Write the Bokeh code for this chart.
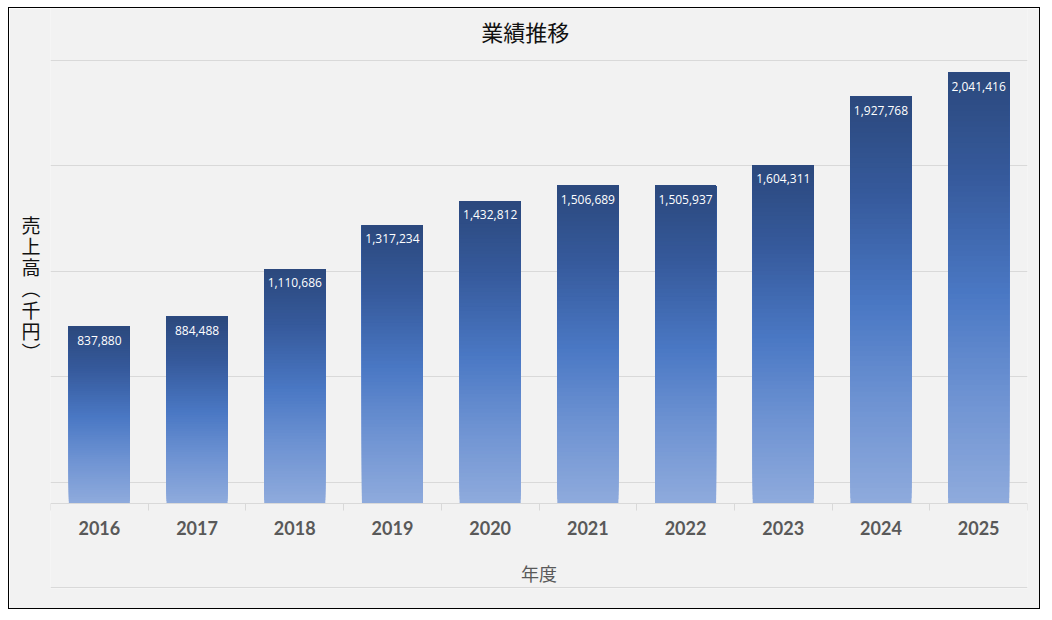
from bokeh.plotting import figure
from bokeh.models import (Range1d, FixedTicker, LinearAxis, ColumnDataSource)
from bokeh.core.properties import value
from bokeh.embed import file_html
from bokeh.resources import INLINE

# ---- data ----
years = ["2016", "2017", "2018", "2019", "2020", "2021", "2022", "2023", "2024", "2025"]
sales = [837880, 884488, 1110686, 1317234, 1432812, 1506689, 1505937, 1604311, 1927768, 2041416]
grid_values = [-400000, 100000, 600000, 1100000, 1600000, 2100000]
title_text = "業績推移"
x_title = "年度"
y_title = "売\n上\n高\n︵\n千\n円\n︶\n"

# category slots: year i sits in slot centred at i + 0.5
centers = [i + 0.5 for i in range(len(years))]
edges = list(range(len(years) + 1))

# gradient stops (0 = bottom of bar, 1 = top)
grad_stops = [(0.0, (0x8e, 0xaa, 0xdc)), (0.25, (0x6d, 0x92, 0xd2)),
              (0.48, (0x4a, 0x78, 0xc4)), (0.75, (0x36, 0x5a, 0x9c)),
              (1.0, (0x2b, 0x48, 0x7c))]


def grad(t):
    for (t0, c0), (t1, c1) in zip(grad_stops[:-1], grad_stops[1:]):
        if t0 <= t <= t1:
            f = (t - t0) / (t1 - t0)
            c = [round(a + (b - a) * f) for a, b in zip(c0, c1)]
            return "#%02x%02x%02x" % tuple(c)
    return "#%02x%02x%02x" % grad_stops[-1][1]


N = 80
seg = dict(x=[], bottom=[], top=[], color=[])
for cx, v in zip(centers, sales):
    for i in range(N):
        seg["x"].append(cx)
        seg["bottom"].append(v * i / N)
        seg["top"].append(v)
        seg["color"].append(grad(i / N))

# plot area reaches the top edge so the title can sit inside it
p = figure(width=1032, height=602,
           x_range=Range1d(0, len(years)),
           y_range=Range1d(-404000, 2346000),
           output_backend="svg", toolbar_location=None,
           x_axis_location=None, y_axis_location="left",
           min_border_left=41, min_border_right=14,
           min_border_top=0, min_border_bottom=22)
p.styles = {"border": "1px solid #000000", "margin": "7px 0px 0px 8px"}
p.background_fill_color = "#f2f2f2"
p.border_fill_color = "#f2f2f2"
p.outline_line_color = None
for g in p.xgrid:
    g.visible = False

# title
p.text(x=[len(years) / 2 - 0.14], y=[2238000], text=[title_text],
       text_align="center", text_baseline="middle",
       text_font=value("Noto Sans CJK JP"), text_font_size="22px",
       text_color="#111111")

# y axis (label only)
ya = p.yaxis[0]
ya.ticker = FixedTicker(ticks=[])
ya.axis_line_color = None
ya.major_tick_line_color = None
ya.minor_tick_line_color = None
ya.axis_label = y_title
ya.axis_label_text_font = "Noto Sans CJK JP"
ya.axis_label_text_font_size = "19px"
ya.axis_label_text_font_style = "normal"
ya.axis_label_text_color = "#111111"
ya.axis_label_text_line_height = 0.78
ya.axis_label_standoff = 10
if "axis_label_orientation" in ya.properties():
    ya.axis_label_orientation = "horizontal"

# grid
p.ygrid.ticker = FixedTicker(ticks=grid_values)
p.ygrid.grid_line_color = "#d9d9d9"
p.ygrid.grid_line_width = 1

# bars (vertical gradient)
p.vbar(x="x", bottom="bottom", top="top", width=0.625,
       fill_color="color", line_color=None, source=ColumnDataSource(seg))

# data labels
p.text(x=centers, y=sales, text=[f"{v:,}" for v in sales],
       text_align="center", text_baseline="top", y_offset=9,
       text_color="white", text_font=value("Open Sans"), text_font_size="12px")

# category axis at y = 0: labels at slot centres, tick marks at slot edges
xa = LinearAxis(fixed_location=0,
                ticker=FixedTicker(ticks=centers, minor_ticks=edges),
                major_label_overrides={c: y for c, y in zip(centers, years)})
xa.axis_line_color = "#d9d9d9"
xa.major_tick_line_color = None
xa.minor_tick_line_color = "#d9d9d9"
xa.minor_tick_in = 0
xa.minor_tick_out = 7
xa.major_tick_in = 0
xa.major_tick_out = 0
xa.major_label_standoff = 11
xa.major_label_text_font = "Lato"
xa.major_label_text_font_style = "bold"
xa.major_label_text_font_size = "18px"
xa.major_label_text_color = "#595959"
xa.axis_label = x_title
xa.axis_label_text_font = "Noto Sans CJK JP"
xa.axis_label_text_font_size = "18px"
xa.axis_label_text_font_style = "normal"
xa.axis_label_text_color = "#595959"
xa.axis_label_standoff = 21
p.add_layout(xa, "below")

open("out.html", "w").write(file_html(p, INLINE))
